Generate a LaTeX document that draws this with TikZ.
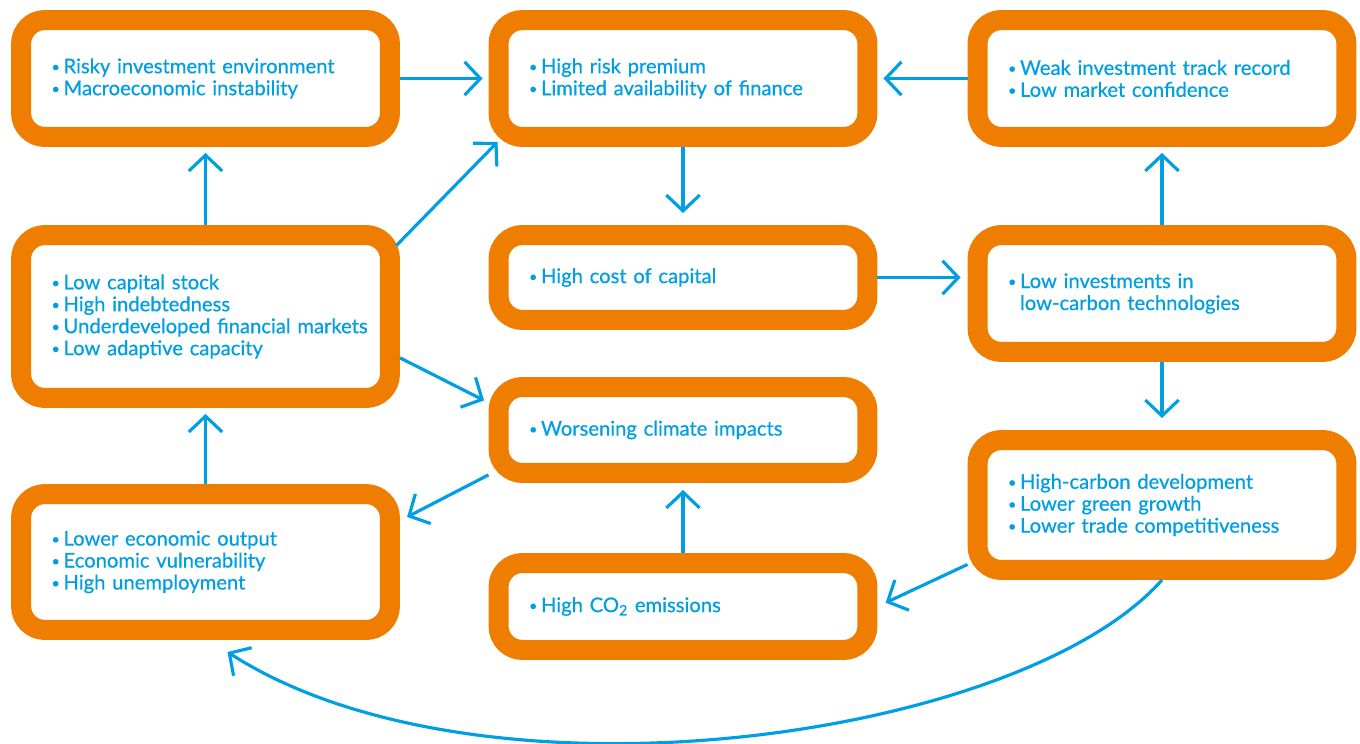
\documentclass[tikz,border=0pt]{standalone}
\usepackage{fontspec}
\setmainfont{Lato}
\newfontfamily\boxfont{Lato}[FakeBold=0.6]
\usetikzlibrary{arrows.meta}
\definecolor{boxorange}{HTML}{EE7D00}
\definecolor{loopblue}{HTML}{009FE3}
\newcommand{\boxtext}{\boxfont\fontsize{11.5}{12.5}\selectfont\hyphenpenalty=10000\relax}
\newcommand{\itm}{\hspace*{6.3pt}\makebox[6.8pt][l]{\raisebox{0.15ex}{\scalebox{0.7}{\textbullet}}}}
\newcommand{\cont}{\hspace*{13.1pt}}
\tikzset{
  box/.style={draw=boxorange, line width=0.4cm, rounded corners=0.48cm, fill=white,
    text=loopblue, align=left, text width=6.6cm, inner xsep=0.39cm, inner ysep=0pt,
    font=\boxtext},
  link/.style={draw=loopblue, line width=1.8pt, -{Straight Barb[length=9pt,width=19pt]}},
}
\begin{document}
\begin{tikzpicture}[x=0.02cm, y=-0.02cm]
\useasboundingbox (0,0) rectangle (1360,744);

\node[box, minimum height=2.34cm] (risk) at (205.5,78.5)
  {\itm Risky investment environment\\ \itm Macroeconomic instability};
\node[box, minimum height=2.34cm] (premium) at (683,78.5)
  {\itm High risk premium\\ \itm Limited availability of finance};
\node[box, minimum height=2.34cm] (record) at (1162,78.5)
  {\itm Weak investment track record\\ \itm Low market confidence};
\node[box, minimum height=3.26cm] (capital) at (205.5,316.5)
  {\itm Low capital stock\\ \itm High indebtedness\\ \itm Underdeveloped financial markets\\ \itm Low adaptive capacity};
\node[box, minimum height=1.7cm] (cost) at (683,277.5)
  {\itm High cost of capital};
\node[box, minimum height=2.34cm] (lowinv) at (1162,293.5)
  {\itm Low investments in\\ \cont low-carbon technologies};
\node[box, minimum height=1.72cm] (impacts) at (683,430)
  {\itm Worsening climate impacts};
\node[box, minimum height=2.6cm] (carbon) at (1162,505)
  {\itm High-carbon development\\ \itm Lower green growth\\ \itm Lower trade competitiveness};
\node[box, minimum height=2.72cm] (output) at (205.5,562)
  {\itm Lower economic output\\ \itm Economic vulnerability\\ \itm High unemployment};
\node[box, minimum height=1.74cm] (co2) at (683,606.5)
  {\itm High CO\textsubscript{2} emissions};

\foreach \a/\b in {risk.east/premium.west, record.west/premium.east, capital.north/risk.south,
  lowinv.north/record.south, output.north/capital.south}
  \draw[link, shorten >=0.12cm] (\a) -- (\b);
\foreach \a/\b in {premium.south/cost.north, lowinv.south/carbon.north}
  \draw[link, shorten >=0.24cm] (\a) -- (\b);
\draw[link, shorten >=0.14cm] (co2.north) -- (impacts.south);
\draw[link, shorten >=0.14cm] (cost.east) -- (cost.east -| lowinv.west);
\draw[link, shorten <=-0.1cm] (capital.21) -- ([shift={(9,-5)}]premium.south west);
\draw[link, shorten >=0.1cm] (capital.-12) -- (impacts.172);
\draw[link, shorten >=0.16cm] (impacts.193) -- (output.12);
\draw[link, shorten >=0.18cm] (carbon.197) -- (co2.east);
\draw[link] (carbon.south) .. controls +(-142,160) and +(253,163) .. ([shift={(22,12)}]output.south);
\end{tikzpicture}
\end{document}
